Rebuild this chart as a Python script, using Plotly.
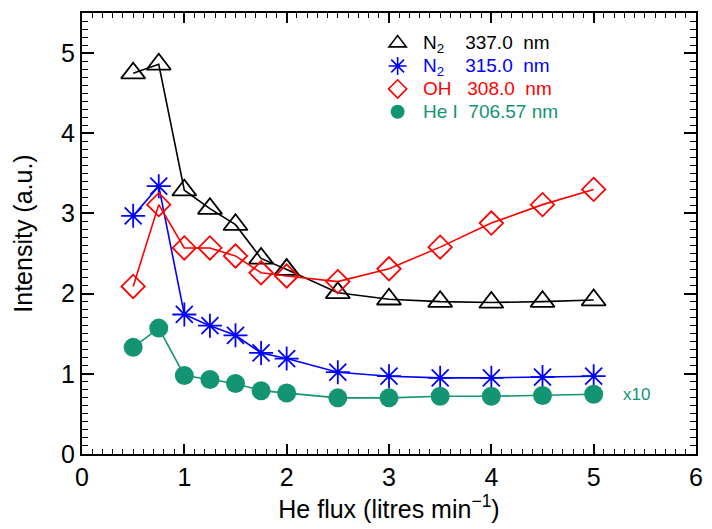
import plotly.graph_objects as go

flux = [0.5, 0.75, 1.0, 1.25, 1.5, 1.75, 2.0, 2.5, 3.0, 3.5, 4.0, 4.5, 5.0]
n2_337 = [4.75, 4.86, 3.29, 3.06, 2.86, 2.44, 2.30, 2.01, 1.93, 1.90, 1.89, 1.90, 1.92]
n2_315 = [2.97, 3.34, 1.74, 1.60, 1.48, 1.26, 1.19, 1.02, 0.97, 0.95, 0.95, 0.96, 0.97]
oh_308 = [2.09, 3.11, 2.57, 2.57, 2.47, 2.26, 2.22, 2.15, 2.31, 2.58, 2.88, 3.11, 3.30]
hei_706 = [1.33, 1.57, 0.98, 0.93, 0.88, 0.79, 0.76, 0.70, 0.70, 0.72, 0.72, 0.73, 0.745]

GREEN = "#139472"
FONT = "Arial, Liberation Sans, sans-serif"
SP = "&nbsp;"


def legend_label(species, wave, color, gap_a, gap_b):
    return ('<span style="font-size:19px;color:%s">%s%s%s%s%snm</span>'
            % (color, SP, species, SP * gap_a, wave, SP * gap_b))


series = [
    (n2_337, "black", "triangle-up-open", 21, 15,
     legend_label("N<sub>2</sub>", "337.0", "black", 4, 2)),
    (n2_315, "blue", "asterisk-open", 20, 15,
     legend_label("N<sub>2</sub>", "315.0", "blue", 4, 2)),
    (oh_308, "red", "diamond-open", 18, 14,
     legend_label("OH", "308.0", "red", 3, 2)),
    (hei_706, GREEN, "circle", 19, 14,
     legend_label("He I", "706.57", GREEN, 2, 1)),
]

fig = go.Figure()
for vals, col, sym, size, lsize, name in series:
    filled = sym == "circle"
    fig.add_trace(go.Scatter(
        x=flux, y=vals, mode="lines+markers", showlegend=False,
        line=dict(color=col, width=1.6),
        marker=dict(symbol=sym, size=size, color=col,
                    line=dict(color=col, width=0 if filled else 1.8)),
    ))
for vals, col, sym, size, lsize, name in series:
    filled = sym == "circle"
    fig.add_trace(go.Scatter(
        x=[None], y=[None], mode="markers", name=name, showlegend=True,
        marker=dict(symbol=sym, size=lsize, color=col,
                    line=dict(color=col, width=0 if filled else 1.6)),
    ))

fig.add_annotation(x=5.27, y=hei_706[-1], text="x10", showarrow=False,
                   xanchor="left", yanchor="middle",
                   font=dict(family=FONT, size=17, color=GREEN))

axis_common = dict(
    showline=True, linecolor="black", linewidth=2, mirror="ticks",
    ticks="inside", tickcolor="black", tickwidth=1.5,
    showgrid=False, zeroline=False,
    tickfont=dict(family=FONT, size=25, color="black"),
)

fig.update_xaxes(
    range=[0, 6], dtick=1, tick0=0, ticklen=10,
    minor=dict(dtick=0.1, ticklen=5, ticks="inside", tickcolor="black", tickwidth=1.2),
    title=dict(text="He flux (litres min<sup>\u22121</sup>)", standoff=6,
               font=dict(family=FONT, size=25, color="black")),
    **axis_common,
)
fig.update_yaxes(
    range=[0, 5.5], dtick=1, tick0=0, ticklen=12,
    minor=dict(dtick=0.1, ticklen=6, ticks="inside", tickcolor="black", tickwidth=1.2),
    title=dict(text="Intensity (a.u.)", standoff=21,
               font=dict(family=FONT, size=25, color="black")),
    **axis_common,
)

fig.update_layout(
    width=712, height=529,
    margin=dict(l=82, r=9, t=13, b=75),
    plot_bgcolor="white", paper_bgcolor="white",
    font=dict(family=FONT, color="black"),
    legend=dict(x=0.4815, y=0.969, xanchor="left", yanchor="top",
                bgcolor="rgba(0,0,0,0)", font=dict(family=FONT, size=15.3, color="black"),
                tracegroupgap=0, itemsizing="trace"),
)

fig.write_html("out.html")
